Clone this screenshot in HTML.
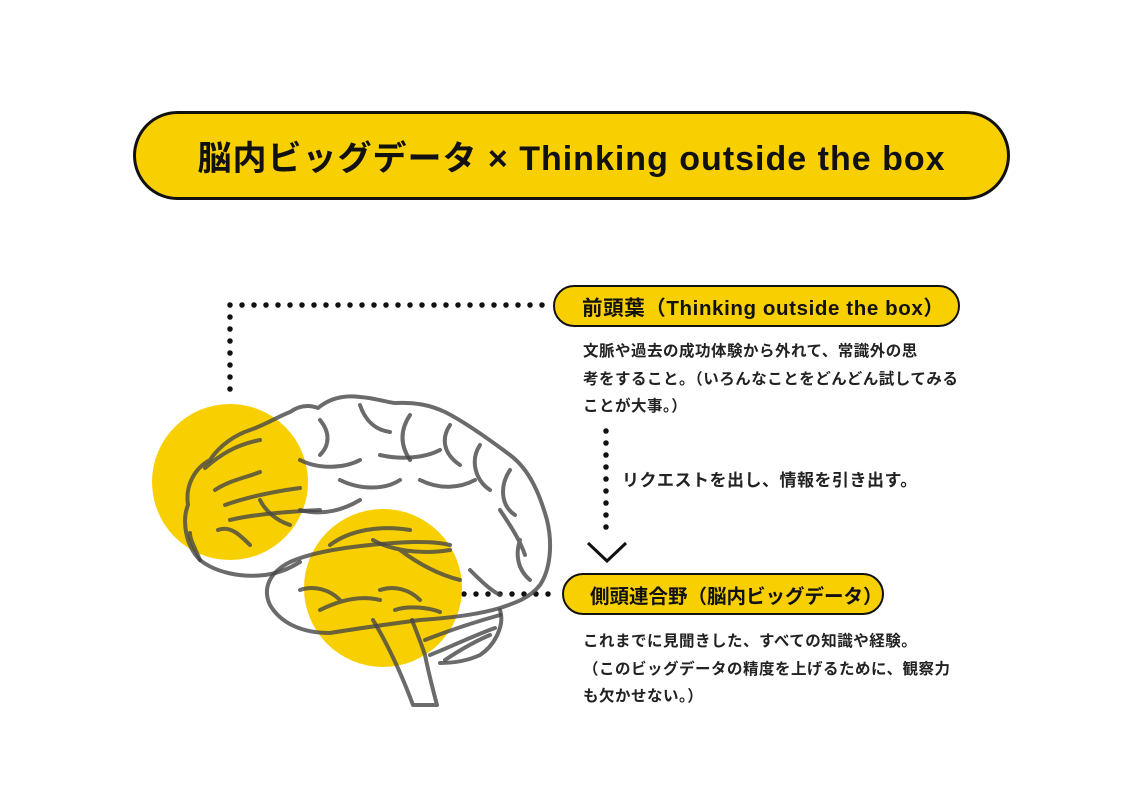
<!DOCTYPE html>
<html><head><meta charset="utf-8"><style>
body{margin:0;width:1140px;height:806px;background:#fff;position:relative;overflow:hidden;font-family:"Liberation Sans","Noto Sans CJK JP",sans-serif;color:#111}
.pill{position:absolute;background:#F8CF00;border:2.5px solid #111;box-sizing:border-box;display:flex;align-items:center;font-weight:bold}
.txt{position:absolute;font-size:15.5px;line-height:27.5px;font-weight:bold;color:#222;letter-spacing:0.5px}
</style></head><body>
<div class="pill" style="left:133px;top:111px;width:877px;height:89px;border-radius:45px;border-width:3px;justify-content:center;font-size:34px;letter-spacing:1px">脳内ビッグデータ × Thinking outside the box</div>
<svg width="1140" height="806" style="position:absolute;left:0;top:0">
<g stroke="#111" stroke-width="5.5" stroke-linecap="round" stroke-dasharray="0 12" fill="none">
<path d="M230 305 V400"/>
<path d="M242 305 H550"/>
<path d="M606 431 V528"/>
<path d="M464 594 H552"/>
</g>
<path d="M588 543 L607 561 L626 543" fill="none" stroke="#111" stroke-width="3"/>
<circle cx="230" cy="482" r="78" fill="#F8CF00"/>
<circle cx="383" cy="588" r="79" fill="#F8CF00"/>
<g fill="none" stroke="rgba(70,70,70,0.8)" stroke-width="4" stroke-linecap="round" stroke-linejoin="round">
<path d="M200 560 C185 545 182 520 188 505 C185 485 195 468 210 460 C220 445 235 435 250 430 C265 425 275 418 290 412 C300 405 310 405 318 408 C330 398 345 395 360 397 C375 398 385 402 395 403 C415 402 430 405 445 412 C465 422 490 440 510 455 C530 470 540 495 547 520 C553 545 550 570 540 585 C530 598 515 603 500 608 C480 614 450 618 420 620 C390 624 360 628 330 633 C300 633 280 622 270 605 C262 588 270 572 290 562 C310 553 340 548 370 545 C400 542 430 540 450 545"/>
<path d="M200 560 C215 572 240 578 265 575 C280 573 290 568 300 562"/>
<path d="M200 560 C195 548 190 540 190 533"/>
<path d="M500 610 C505 625 495 645 480 655 C465 662 450 663 440 663"/>
<path d="M373 620 C385 640 400 670 413 705 L437 705 C433 690 428 670 425 655 C420 640 415 628 412 620"/>
<path d="M425 640 C450 630 475 622 500 615 M430 655 C455 645 475 635 495 628 M445 660 C460 650 478 640 490 635"/>
<path d="M205 468 C220 455 235 445 260 440 M215 490 C230 480 245 478 260 472 M225 505 C245 498 270 492 300 488 M230 520 C250 515 280 512 320 510"/>
<path d="M218 530 C230 525 240 535 250 545 M260 500 C265 510 275 520 290 525"/>
<path d="M320 420 C330 432 330 445 320 455 M360 405 C365 420 375 430 390 432 M410 415 C400 430 400 445 410 460 M450 425 C440 440 445 455 460 465 M480 445 C470 460 475 480 490 490 M510 470 C500 485 500 505 515 515"/>
<path d="M300 460 C320 470 345 468 360 460 M340 480 C360 490 385 490 400 480 M380 455 C400 460 425 458 440 450 M420 480 C440 490 460 488 475 480 M300 510 C320 515 340 512 360 500"/>
<path d="M330 545 C350 530 380 525 410 530 M373 540 C390 550 420 555 450 550 M400 550 C420 565 440 575 460 580"/>
<path d="M300 590 C315 585 330 590 340 600 M320 610 C340 600 360 595 380 600 M380 590 C395 585 410 590 420 600 M395 610 C410 605 430 608 440 612"/>
<path d="M470 570 C480 580 490 590 500 595 M500 510 C510 525 520 540 525 555 M520 540 C515 555 518 570 530 580"/>
</g>
</svg>
<div class="pill" style="left:553px;top:285px;width:407px;height:42px;border-radius:21px;padding-left:27px;font-size:20.5px;letter-spacing:0.6px">前頭葉（Thinking outside the box）</div>
<div class="txt" style="left:583px;top:338px">文脈や過去の成功体験から外れて、常識外の思<br>考をすること。（いろんなことをどんどん試してみる<br>ことが大事。）</div>
<div class="txt" style="left:622px;top:467px;font-size:17px">リクエストを出し、情報を引き出す。</div>
<div class="pill" style="left:562px;top:573px;width:322px;height:42px;border-radius:21px;padding-left:26px;font-size:19.5px">側頭連合野（脳内ビッグデータ）</div>
<div class="txt" style="left:583px;top:628px">これまでに見聞きした、すべての知識や経験。<br>（このビッグデータの精度を上げるために、観察力<br>も欠かせない。）</div>
</body></html>
